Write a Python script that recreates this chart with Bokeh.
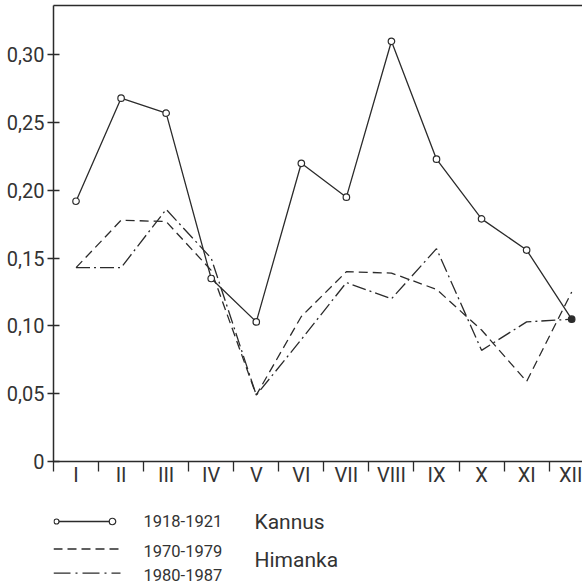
import numpy as np
from bokeh.plotting import figure
from bokeh.models import Range1d, FixedTicker, LinearAxis
from bokeh.layouts import column
from bokeh.embed import file_html
from bokeh.resources import INLINE
from bokeh.core.properties import value

# ---------------- data ----------------
months = ["I", "II", "III", "IV", "V", "VI", "VII", "VIII", "IX", "X", "XI", "XII"]
kannus_1918_1921 = [0.192, 0.268, 0.257, 0.135, 0.103, 0.220, 0.195, 0.310, 0.223, 0.179, 0.156, 0.105]
himanka_1970_1979 = [0.143, 0.178, 0.177, 0.141, 0.049, 0.107, 0.140, 0.139, 0.127, 0.097, 0.059, 0.125]
himanka_1980_1987 = [0.143, 0.143, 0.186, 0.150, 0.049, 0.090, 0.132, 0.120, 0.157, 0.082, 0.103, 0.105]
y_ticks = [0, 0.05, 0.10, 0.15, 0.20, 0.25, 0.30]
y_tick_labels = ["0", "0,05", "0,10", "0,15", "0,20", "0,25", "0,30"]
series_labels = ["1918-1921", "1970-1979", "1980-1987"]
place_labels = ["Kannus", "Himanka"]

INK = "#2b2b2b"
TXT = "#333333"
FONT = "Roboto"

# month centres and month boundaries on a numeric axis
centers = [i + 0.5 for i in range(len(months))]
bounds = [float(i) for i in range(len(months))]

# ---------------- main chart ----------------
p = figure(width=582, height=495, output_backend="svg", toolbar_location=None,
           x_range=Range1d(0, 11.74), y_range=Range1d(0, 0.3364),
           min_border_left=53, min_border_right=0, min_border_top=5, min_border_bottom=34)
p.outline_line_color = None
p.grid.visible = False
p.background_fill_color = "white"
p.border_fill_color = "white"

xa = p.xaxis[0]
xa.ticker = FixedTicker(ticks=centers, minor_ticks=bounds)
xa.major_label_overrides = {c: m for c, m in zip(centers, months)}
xa.major_tick_in = 0
xa.major_tick_out = 0
xa.minor_tick_in = 0
xa.minor_tick_out = 10
xa.minor_tick_line_color = INK
xa.minor_tick_line_width = 1.3
xa.axis_line_color = INK
xa.axis_line_width = 1.5
xa.major_label_text_font = FONT
xa.major_label_text_font_size = "20px"
xa.major_label_text_color = TXT
xa.major_label_standoff = -9

ya = p.yaxis[0]
ya.ticker = FixedTicker(ticks=y_ticks, minor_ticks=[])
ya.major_label_overrides = {t: l for t, l in zip(y_ticks, y_tick_labels)}
ya.major_tick_in = 6
ya.major_tick_out = 6
ya.major_tick_line_color = INK
ya.major_tick_line_width = 1.3
ya.minor_tick_in = 0
ya.minor_tick_out = 0
ya.axis_line_color = INK
ya.axis_line_width = 1.5
ya.major_label_text_font = FONT
ya.major_label_text_font_size = "20px"
ya.major_label_text_color = TXT
ya.major_label_standoff = 3

top = LinearAxis(ticker=FixedTicker(ticks=[], minor_ticks=[]),
                 major_tick_in=0, major_tick_out=0, minor_tick_in=0, minor_tick_out=0,
                 major_label_text_font_size="0px", axis_line_color=INK, axis_line_width=1.5)
p.add_layout(top, "above")

p.line(centers, himanka_1970_1979, line_color=INK, line_width=1.3, line_dash="9 5")
p.line(centers, himanka_1980_1987, line_color=INK, line_width=1.3, line_dash="14 4 2 4")
p.line(centers, kannus_1918_1921, line_color=INK, line_width=1.3)
fills = ["white"] * (len(months) - 1) + [INK]
p.scatter(centers, kannus_1918_1921, marker="circle", size=6.5,
          fill_color=fills, line_color=INK, line_width=1.2)

# ---------------- legend panel (page-pixel coordinates) ----------------
# the column aligns this panel's frame with the chart frame (left edge at 53 px)
lg = figure(width=582, height=88, output_backend="svg", toolbar_location=None,
            x_range=Range1d(53, 582), y_range=Range1d(583, 495),
            x_axis_location=None, y_axis_location=None,
            min_border_left=53, min_border_right=0, min_border_top=0, min_border_bottom=0)
lg.outline_line_color = None
lg.grid.visible = False
lg.background_fill_color = "white"
lg.border_fill_color = "white"

lg.line([56, 112], [521, 521], line_color=INK, line_width=1.3)
lg.scatter([56, 112], [521, 521], marker="circle", size=[5, 6.5],
           fill_color="white", line_color=INK, line_width=1.2)
lg.line([53, 120], [548.5, 548.5], line_color=INK, line_width=1.3, line_dash="9 5")
lg.line([53, 120], [572.7, 572.7], line_color=INK, line_width=1.3, line_dash="17 5 2 5")

lg.text(x=[143, 143, 143], y=[520, 550, 574], text=series_labels,
        text_font=value(FONT), text_font_size="16.5px", text_color=TXT,
        text_align="left", text_baseline="alphabetic")
lg.text(x=[254, 254], y=[521, 559.5], text=place_labels,
        text_font=value(FONT), text_font_size="21px", text_color=TXT,
        text_align="left", text_baseline="alphabetic")

layout = column(p, lg, spacing=0)
open("out.html", "w").write(file_html(layout, INLINE))
